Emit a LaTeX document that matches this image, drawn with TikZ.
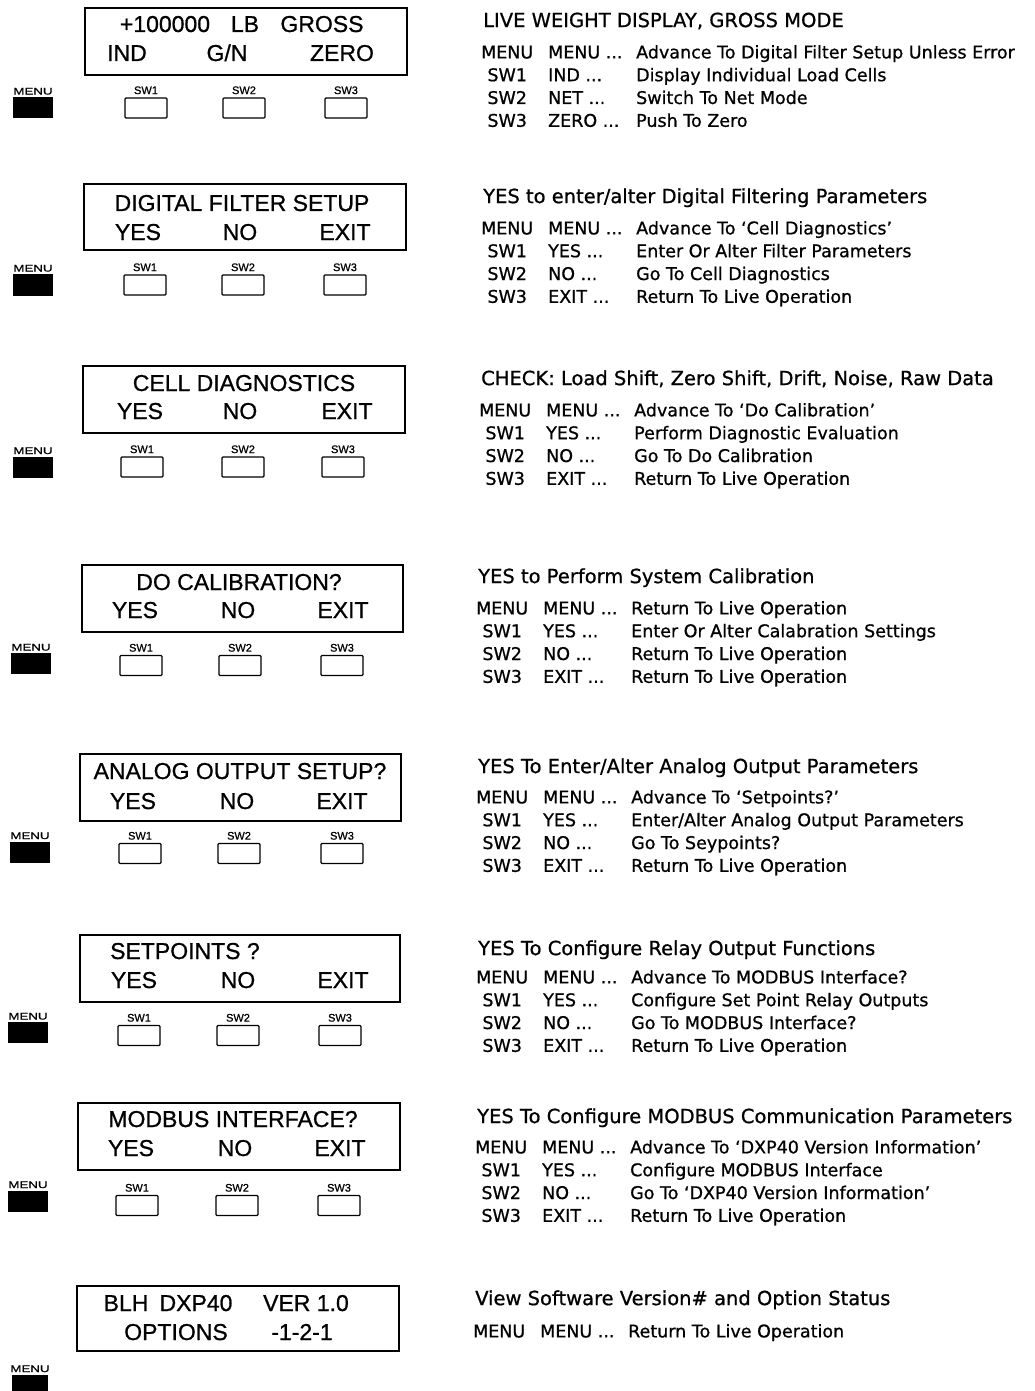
\documentclass[tikz,border=0pt]{standalone}
\usepackage{fontspec}
\usepackage{array}
\setmainfont{Liberation Sans}[FakeBold=0.8]
\newfontfamily\notefont{DejaVu Sans}[FakeBold=0.8]
\usetikzlibrary{positioning}

\tikzset{
    lcd/.style={draw, line width=1.8pt},
    lcdtext/.style={font=\fontsize{23}{27}\selectfont, inner sep=0pt, anchor=base},
    swkey/.style={draw, line width=1.2pt, rounded corners=1pt, minimum width=42pt, minimum height=20pt, inner sep=0pt},
    swlabel/.style={font=\fontsize{11}{11}\selectfont, inner sep=0pt},
    menukey/.style={fill=black, minimum width=40pt, minimum height=21pt, inner sep=0pt},
    menulabel/.style={font=\fontsize{9.5}{9.5}\selectfont, inner sep=0pt},
    title/.style={font=\notefont\fontsize{19.5}{23}\selectfont, inner sep=0pt, anchor=base west},
    keylist/.style={font=\notefont\fontsize{17.5}{22.8}\selectfont, inner sep=0pt, anchor=base west},
}
\newcolumntype{K}{@{}w{c}{48pt}@{\hspace{17pt}}w{l}{80pt}@{\hspace{8pt}}l@{}}

\begin{document}
\begin{tikzpicture}[x=1pt,y=-1pt]
    \useasboundingbox (0,0) rectangle (1034,1391);

    % Panel 1: live weight
    \draw[lcd] (85,8) rectangle (407,75);
    \node[lcdtext] (d1a) at (165,32) {+100000};
    \node[lcdtext] (d1b) at (245,32) {LB};
    \node[lcdtext] (d1c) at (322,32) {GROSS};
    \node[lcdtext] (d1d) at (127,61) {IND};
    \node[lcdtext] (d1e) at (227,61) {G/N};
    \node[lcdtext] (d1f) at (342,61) {ZERO};
    \node[menukey] (m1) at (33,107.5) {};
    \node[menulabel, above=2pt of m1] (t1) {\scalebox{1.4}[1]{MENU}};
    \node[swkey] (k1a) at (146,108) {};
    \node[swkey] (k1b) at (244,108) {};
    \node[swkey] (k1c) at (346,108) {};
    \node[swlabel, above=3pt of k1a] (l1a) {SW1};
    \node[swlabel, above=3pt of k1b] (l1b) {SW2};
    \node[swlabel, above=3pt of k1c] (l1c) {SW3};
    \node[title] (h1) at (483,27.1) {LIVE WEIGHT DISPLAY, GROSS MODE};
    \node[keylist] (r1) at (483,58.4) {\begin{tabular}[t]{K}
        MENU & MENU ... & Advance To Digital Filter Setup Unless Error\\
        SW1 & IND ... & Display Individual Load Cells\\
        SW2 & NET ... & Switch To Net Mode\\
        SW3 & ZERO ... & Push To Zero
    \end{tabular}};

    % Panel 2: digital filter
    \draw[lcd] (84,184) rectangle (406,250);
    \node[lcdtext] (d2a) at (242,211) {DIGITAL FILTER SETUP};
    \node[lcdtext] (d2b) at (138,240) {YES};
    \node[lcdtext] (d2c) at (240,240) {NO};
    \node[lcdtext] (d2d) at (345,240) {EXIT};
    \node[menukey, minimum height=22pt] (m2) at (33,285) {};
    \node[menulabel, above=2pt of m2] (t2) {\scalebox{1.4}[1]{MENU}};
    \node[swkey] (k2a) at (145,285) {};
    \node[swkey] (k2b) at (243,285) {};
    \node[swkey] (k2c) at (345,285) {};
    \node[swlabel, above=3pt of k2a] (l2a) {SW1};
    \node[swlabel, above=3pt of k2b] (l2b) {SW2};
    \node[swlabel, above=3pt of k2c] (l2c) {SW3};
    \node[title] (h2) at (483,203.1) {YES to enter/alter Digital Filtering Parameters};
    \node[keylist] (r2) at (483,234.4) {\begin{tabular}[t]{K}
        MENU & MENU ... & Advance To ‘Cell Diagnostics’\\
        SW1 & YES ... & Enter Or Alter Filter Parameters\\
        SW2 & NO ... & Go To Cell Diagnostics\\
        SW3 & EXIT ... & Return To Live Operation
    \end{tabular}};

    % Panel 3: cell diagnostics
    \draw[lcd] (83,366) rectangle (405,433);
    \node[lcdtext] (d3a) at (244,391) {CELL DIAGNOSTICS};
    \node[lcdtext] (d3b) at (140,419) {YES};
    \node[lcdtext] (d3c) at (240,419) {NO};
    \node[lcdtext] (d3d) at (347,419) {EXIT};
    \node[menukey] (m3) at (33,467) {};
    \node[menulabel, above=2pt of m3] (t3) {\scalebox{1.4}[1]{MENU}};
    \node[swkey] (k3a) at (142,467) {};
    \node[swkey] (k3b) at (243,467) {};
    \node[swkey] (k3c) at (343,467) {};
    \node[swlabel, above=3pt of k3a] (l3a) {SW1};
    \node[swlabel, above=3pt of k3b] (l3b) {SW2};
    \node[swlabel, above=3pt of k3c] (l3c) {SW3};
    \node[title] (h3) at (481,385.1) {CHECK: Load Shift, Zero Shift, Drift, Noise, Raw Data};
    \node[keylist] (r3) at (481,416.4) {\begin{tabular}[t]{K}
        MENU & MENU ... & Advance To ‘Do Calibration’\\
        SW1 & YES ... & Perform Diagnostic Evaluation\\
        SW2 & NO ... & Go To Do Calibration\\
        SW3 & EXIT ... & Return To Live Operation
    \end{tabular}};

    % Panel 4: calibration
    \draw[lcd] (82,565) rectangle (403,632);
    \node[lcdtext] (d4a) at (239,590) {DO CALIBRATION?};
    \node[lcdtext] (d4b) at (135,618) {YES};
    \node[lcdtext] (d4c) at (238,618) {NO};
    \node[lcdtext] (d4d) at (343,618) {EXIT};
    \node[menukey] (m4) at (31,663.5) {};
    \node[menulabel, above=2pt of m4] (t4) {\scalebox{1.4}[1]{MENU}};
    \node[swkey] (k4a) at (141,665.5) {};
    \node[swkey] (k4b) at (240,665.5) {};
    \node[swkey] (k4c) at (342,665.5) {};
    \node[swlabel, above=3pt of k4a] (l4a) {SW1};
    \node[swlabel, above=3pt of k4b] (l4b) {SW2};
    \node[swlabel, above=3pt of k4c] (l4c) {SW3};
    \node[title] (h4) at (478,583.1) {YES to Perform System Calibration};
    \node[keylist] (r4) at (478,614.4) {\begin{tabular}[t]{K}
        MENU & MENU ... & Return To Live Operation\\
        SW1 & YES ... & Enter Or Alter Calabration Settings\\
        SW2 & NO ... & Return To Live Operation\\
        SW3 & EXIT ... & Return To Live Operation
    \end{tabular}};

    % Panel 5: analog output
    \draw[lcd] (80,754) rectangle (401,821);
    \node[lcdtext] (d5a) at (240,779) {ANALOG OUTPUT SETUP?};
    \node[lcdtext] (d5b) at (133,809) {YES};
    \node[lcdtext] (d5c) at (237,809) {NO};
    \node[lcdtext] (d5d) at (342,809) {EXIT};
    \node[menukey] (m5) at (30,852) {};
    \node[menulabel, above=2pt of m5] (t5) {\scalebox{1.4}[1]{MENU}};
    \node[swkey] (k5a) at (140,853.5) {};
    \node[swkey] (k5b) at (239,853.5) {};
    \node[swkey] (k5c) at (342,853.5) {};
    \node[swlabel, above=3pt of k5a] (l5a) {SW1};
    \node[swlabel, above=3pt of k5b] (l5b) {SW2};
    \node[swlabel, above=3pt of k5c] (l5c) {SW3};
    \node[title] (h5) at (478,773.1) {YES To Enter/Alter Analog Output Parameters};
    \node[keylist] (r5) at (478,803.4) {\begin{tabular}[t]{K}
        MENU & MENU ... & Advance To ‘Setpoints?’\\
        SW1 & YES ... & Enter/Alter Analog Output Parameters\\
        SW2 & NO ... & Go To Seypoints?\\
        SW3 & EXIT ... & Return To Live Operation
    \end{tabular}};

    % Panel 6: setpoints
    \draw[lcd] (80,935) rectangle (400,1002);
    \node[lcdtext, anchor=base west] (d6a) at (110,959) {SETPOINTS ?};
    \node[lcdtext] (d6b) at (134,988) {YES};
    \node[lcdtext] (d6c) at (238,988) {NO};
    \node[lcdtext] (d6d) at (343,988) {EXIT};
    \node[menukey] (m6) at (28,1032.5) {};
    \node[menulabel, above=2pt of m6] (t6) {\scalebox{1.4}[1]{MENU}};
    \node[swkey] (k6a) at (139,1035.5) {};
    \node[swkey] (k6b) at (238,1035.5) {};
    \node[swkey] (k6c) at (340,1035.5) {};
    \node[swlabel, above=3pt of k6a] (l6a) {SW1};
    \node[swlabel, above=3pt of k6b] (l6b) {SW2};
    \node[swlabel, above=3pt of k6c] (l6c) {SW3};
    \node[title] (h6) at (478,955.1) {YES To Configure Relay Output Functions};
    \node[keylist] (r6) at (478,983.4) {\begin{tabular}[t]{K}
        MENU & MENU ... & Advance To MODBUS Interface?\\
        SW1 & YES ... & Configure Set Point Relay Outputs\\
        SW2 & NO ... & Go To MODBUS Interface?\\
        SW3 & EXIT ... & Return To Live Operation
    \end{tabular}};

    % Panel 7: modbus
    \draw[lcd] (78,1103) rectangle (400,1170);
    \node[lcdtext] (d7a) at (233,1127) {MODBUS INTERFACE?};
    \node[lcdtext] (d7b) at (131,1156) {YES};
    \node[lcdtext] (d7c) at (235,1156) {NO};
    \node[lcdtext] (d7d) at (340,1156) {EXIT};
    \node[menukey] (m7) at (28,1201) {};
    \node[menulabel, above=2pt of m7] (t7) {\scalebox{1.4}[1]{MENU}};
    \node[swkey] (k7a) at (137,1205.5) {};
    \node[swkey] (k7b) at (237,1205.5) {};
    \node[swkey] (k7c) at (339,1205.5) {};
    \node[swlabel, above=3pt of k7a] (l7a) {SW1};
    \node[swlabel, above=3pt of k7b] (l7b) {SW2};
    \node[swlabel, above=3pt of k7c] (l7c) {SW3};
    \node[title] (h7) at (477,1123.1) {YES To Configure MODBUS Communication Parameters};
    \node[keylist] (r7) at (477,1153.4) {\begin{tabular}[t]{K}
        MENU & MENU ... & Advance To ‘DXP40 Version Information’\\
        SW1 & YES ... & Configure MODBUS Interface\\
        SW2 & NO ... & Go To ‘DXP40 Version Information’\\
        SW3 & EXIT ... & Return To Live Operation
    \end{tabular}};

    % Panel 8: version
    \draw[lcd] (77,1286) rectangle (399,1351);
    \node[lcdtext] (d8a) at (126,1311) {BLH};
    \node[lcdtext] (d8b) at (196,1311) {DXP40};
    \node[lcdtext] (d8c) at (306,1311) {VER 1.0};
    \node[lcdtext] (d8d) at (176,1340) {OPTIONS};
    \node[lcdtext] (d8e) at (302,1340) {-1-2-1};
    \node[menukey, minimum width=36pt] (m8) at (30,1385) {};
    \node[menulabel, above=2pt of m8] (t8) {\scalebox{1.4}[1]{MENU}};
    \node[title] (h8) at (475,1305.1) {View Software Version\# and Option Status};
    \node[keylist] (r8) at (475,1337.4) {\begin{tabular}[t]{K}
        MENU & MENU ... & Return To Live Operation
    \end{tabular}};
\end{tikzpicture}
\end{document}
